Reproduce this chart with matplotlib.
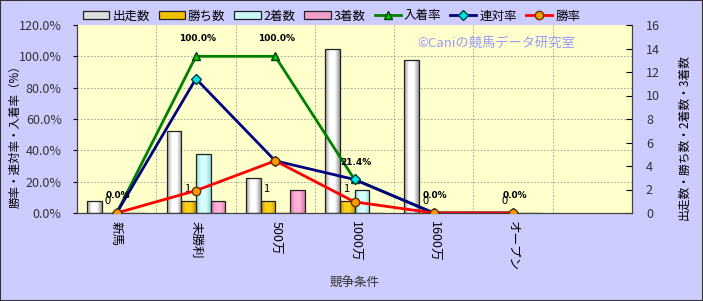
import numpy as np
import matplotlib
matplotlib.use('Agg')
import matplotlib.pyplot as plt
from matplotlib.patches import Rectangle, Patch
from matplotlib.colors import LinearSegmentedColormap

plt.rcParams['font.family'] = ['Noto Sans CJK JP', 'DejaVu Sans']

# データ
categories = ['新馬', '未勝利', '500万', '1000万', '1600万', 'オープン', '']
starts = [1, 7, 3, 14, 13, 0]
wins = [0, 1, 1, 1, 0, 0]
seconds = [0, 5, 0, 2, 0, 0]
thirds = [0, 1, 2, 0, 0, 0]
win_rate = [0.0, 14.3, 33.3, 7.1, 0.0, 0.0]
rentai_rate = [0.0, 85.7, 33.3, 21.4, 0.0, 0.0]
place_rate = [0.0, 100.0, 100.0, 21.4, 0.0, 0.0]

bg = '#CCCCFF'
fig = plt.figure(figsize=(7.03, 3.01), dpi=100, facecolor=bg)
ax = fig.add_axes([77/703, 1-213/301, (632-77)/703, (213-25)/301])
ax2 = ax.twinx()
ax.set_facecolor('#FFFFCC')
ax2.patch.set_visible(False)

n = len(starts)
x = np.arange(n)
w = 0.185

# グリッド (棒の後ろ)
for k in range(1, 6):
    ax.axhline(k * 16 / 6, color='#999999', lw=0.6, ls=(0, (2, 2)), zorder=0)
for i in range(len(categories) - 1):
    ax.axvline(i + 0.5, color='#999999', lw=0.6, ls=(0, (2, 2)), zorder=0)

def shaded_bars(xs, vals, dark, light, label):
    bars = ax.bar(xs, vals, w, facecolor='none', edgecolor='#222222', lw=0.9, zorder=2.2)
    cmap = LinearSegmentedColormap.from_list('g', [dark, light, light, dark])
    grad = np.linspace(0, 1, 64).reshape(1, -1)
    for r in bars:
        if r.get_height() <= 0:
            continue
        im = ax.imshow(grad, extent=[r.get_x(), r.get_x() + r.get_width(), 0, r.get_height()],
                       aspect='auto', cmap=cmap, zorder=2.0, interpolation='bilinear')
        im.set_clip_path(r)
    # 凡例用
    return Patch(facecolor=light, edgecolor='#222222', lw=0.9, label=label)

b1 = shaded_bars(x - 1.5*w, starts, '#9A9A9A', '#FFFFFF', '出走数')
b2 = shaded_bars(x - 0.5*w, wins, '#C89600', '#FFD21A', '勝ち数')
b3 = shaded_bars(x + 0.5*w, seconds, '#8CD8D8', '#D8FFFF', '2着数')
b4 = shaded_bars(x + 1.5*w, thirds, '#D878A8', '#FFB0D8', '3着数')
b1.set_facecolor('#DDDDDD')
b2.set_facecolor('#F0C000')
b3.set_facecolor('#C8F8F8')
b4.set_facecolor('#F0A0CC')

for xi, v in zip(x - 0.5*w, wins):
    ax.annotate(str(v), (xi, v), xytext=(-1, 9), textcoords='offset points',
                ha='center', va='center', fontsize=8, color='black', zorder=5)

l1, = ax2.plot(x, place_rate, color='#008000', lw=2, marker='^', ms=6,
               mfc='#00CC00', mec='#004000', label='入着率', zorder=3)
l2, = ax2.plot(x, rentai_rate, color='#000080', lw=2, marker='D', ms=5,
               mfc='#00E5E5', mec='#004040', label='連対率', zorder=4)
l3, = ax2.plot(x, win_rate, color='#FF0000', lw=2, marker='o', ms=6,
               mfc='#FF9900', mec='#663300', label='勝率', zorder=5)

for xi, v in zip(x, place_rate):
    ax2.annotate('%.1f%%' % v, (xi, v), xytext=(1, 12.5), textcoords='offset points',
                 ha='center', va='center', fontsize=6.5, fontweight='bold',
                 family='DejaVu Sans', zorder=6)

ax.set_xlim(-0.5, len(categories) - 0.5)
ax.set_ylim(0, 16)
ax.set_yticks(range(0, 17, 2))
ax2.set_ylim(0, 120)
ax2.set_yticks(range(0, 121, 20))
ax2.set_yticklabels(['%.1f%%' % t for t in range(0, 121, 20)])

ax.yaxis.tick_right()
ax.yaxis.set_label_position('right')
ax2.yaxis.tick_left()
ax2.yaxis.set_label_position('left')

ax.set_xticks(range(len(categories)))
ax.set_xticklabels(categories, rotation=270, fontsize=9)
ax.tick_params(axis='x', length=0, pad=6)
ax.tick_params(axis='y', direction='in', length=4, labelsize=9, labelcolor='#333333', pad=10)
ax2.tick_params(axis='y', direction='out', length=3, labelsize=9, labelcolor='#333333', pad=8)

for a in (ax, ax2):
    for s in a.spines.values():
        s.set_color('#404040')
        s.set_linewidth(0.8)
    a.spines['top'].set_visible(False)

ax.set_xlabel('競争条件', fontsize=9, color='#333333', labelpad=4)
ax.set_ylabel('出走数・勝ち数・2着数・3着数', rotation=90, fontsize=8.5)
ax.yaxis.set_label_coords((677 - 77) / 555, (213 - 137) / 188)
ax2.set_ylabel('勝率・連対率・入着率（%）', fontsize=8.3)
ax2.yaxis.set_label_coords((21 - 77) / 555, (213 - 134) / 188)

ax2.text(0.755, 0.9, '©Caniの競馬データ研究室', transform=ax2.transAxes,
         ha='center', va='center', fontsize=9.5, color='#9999FF', zorder=1)

fig.legend(handles=[b1, b2, b3, b4, l1, l2, l3], loc='center left',
           bbox_to_anchor=(83/703, 1-16/301), ncol=7, frameon=False, fontsize=9,
           handlelength=2.1, handleheight=0.55, handletextpad=0.25, columnspacing=0.7,
           borderpad=0, borderaxespad=0)

fig.patches.append(Rectangle((0, 0), 1, 1, transform=fig.transFigure,
                             fill=False, edgecolor='#333333', lw=1.5))

fig.savefig('out.png', dpi=100, facecolor=bg)
